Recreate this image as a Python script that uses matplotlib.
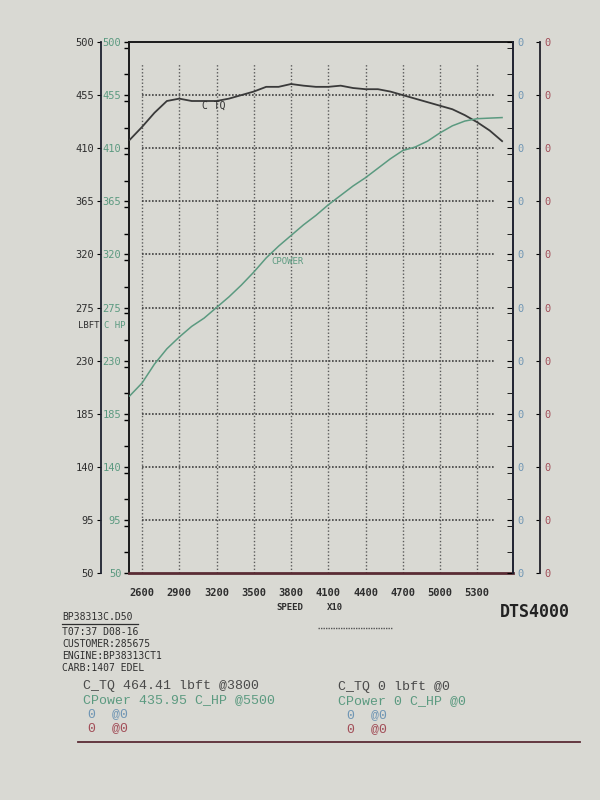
import matplotlib.pyplot as plt
import matplotlib.ticker as ticker
from matplotlib.lines import Line2D

# dyno run, engine speed in rpm
rpm = [2500, 2600, 2700, 2800, 2900, 3000, 3100, 3200, 3300, 3400, 3500,
       3600, 3700, 3800, 3900, 4000, 4100, 4200, 4300, 4400, 4500,
       4600, 4700, 4800, 4900, 5000, 5100, 5200, 5300, 5400, 5500]
torque = [417, 428, 440, 450, 452, 450, 450, 450, 452, 455, 458,
          462, 462, 464.4, 463, 462, 462, 463, 461, 460, 460,
          458, 455, 452, 449, 446, 443, 438, 432, 425, 416]
power = [200, 211, 227, 240, 250, 259, 266, 275, 284, 294, 305,
         317, 327, 336, 345, 353, 362, 370, 378, 385, 393,
         401, 408, 411, 416, 423, 429, 433, 435, 435.5, 435.95]

y_ticks = [50, 95, 140, 185, 230, 275, 320, 365, 410, 455, 500]
x_ticks = [2600, 2900, 3200, 3500, 3800, 4100, 4400, 4700, 5000, 5300]
blue_labels = ["0"] * len(y_ticks)
red_labels = ["0"] * len(y_ticks)

run_file = "BP38313C.D50"
info_lines = ["T07:37 D08-16", "CUSTOMER:285675", "ENGINE:BP38313CT1", "CARB:1407 EDEL"]

PAPER = "#d9d9d3"
INK = "#2e2e2e"
GREEN = "#5b9a80"
BLUE = "#7096b4"
RED = "#a24e58"
MAROON = "#5a2c34"

plt.rcParams["font.family"] = ["DejaVu Sans Mono"]

W, H = 600, 800


def fx(x):
    return x / W


def fy(y):
    return 1 - y / H


fig = plt.figure(figsize=(6, 8), dpi=100)
fig.patch.set_facecolor(PAPER)

bottom, height = fy(573), (573 - 42) / H
ax = fig.add_axes([fx(129), bottom, (513 - 129) / W, height])
ax.set_facecolor(PAPER)
ax.set_xlim(2495, 5588)
ax.set_ylim(50, 500)

# grid (dotted, printer style)
for v in x_ticks:
    ax.vlines(v, 50, 481, colors="#5a5a5a", linestyles=(0, (1, 1.5)), linewidth=1.0, zorder=1)
for h in y_ticks[1:-1]:
    ax.hlines(h, 2600, 5440, colors="#404040", linestyles=(0, (1, 1)), linewidth=1.2, zorder=1)

ax.plot(rpm, torque, color="#3a3a3a", linewidth=1.3, zorder=3)
ax.plot(rpm, power, color=GREEN, linewidth=1.1, zorder=3)
ax.text(3080, 446, "C TQ", fontsize=7, color=INK, va="center", zorder=4)
ax.text(3640, 314, "CPOWER", fontsize=6.5, color=GREEN, va="center", zorder=4)

ax.set_yticks(y_ticks)
ax.yaxis.set_minor_locator(ticker.MultipleLocator(22.5))
ax.tick_params(axis="y", which="both", direction="out", length=3.5, width=1,
               left=True, right=False, labelsize=7.5, labelcolor=GREEN, pad=2)
ax.set_xticks(x_ticks)
ax.tick_params(axis="x", length=0, pad=11, labelsize=7.5, labelcolor=INK)
for t in ax.get_xticklabels():
    t.set_fontweight("bold")

for s in ["left", "top"]:
    ax.spines[s].set_color("#1a1a1a")
    ax.spines[s].set_linewidth(1.4)
ax.spines["right"].set_visible(False)
ax.spines["bottom"].set_color(MAROON)
ax.spines["bottom"].set_linewidth(2)

# right hand axes (unused channels, all zero)
ax_b = ax.twinx()
ax_b.set_ylim(50, 500)
ax_b.set_yticks(y_ticks)
ax_b.set_yticklabels(blue_labels)
ax_b.yaxis.set_minor_locator(ticker.MultipleLocator(22.5))
ax_b.tick_params(axis="y", which="both", direction="in", length=4, labelsize=7.5,
                 labelcolor=BLUE, pad=3)
for s in ["left", "top", "bottom"]:
    ax_b.spines[s].set_visible(False)
ax_b.spines["right"].set_color("#1e2230")
ax_b.spines["right"].set_linewidth(1.4)

ax_r = ax.twinx()
ax_r.set_ylim(50, 500)
ax_r.spines["right"].set_position(("axes", 1.07))
ax_r.set_yticks(y_ticks)
ax_r.set_yticklabels(red_labels)
ax_r.tick_params(axis="y", direction="in", length=3, labelsize=7.5, labelcolor=RED, pad=3)
for s in ["left", "top", "bottom"]:
    ax_r.spines[s].set_visible(False)
ax_r.spines["right"].set_color("#22222a")
ax_r.spines["right"].set_linewidth(1.3)

# left lbft axis
ax_k = fig.add_axes([fx(101), bottom, 0.001, height])
ax_k.set_ylim(50, 500)
ax_k.set_yticks(y_ticks)
ax_k.set_xticks([])
ax_k.patch.set_visible(False)
ax_k.tick_params(axis="y", direction="out", length=3, labelsize=7.5, labelcolor=INK, pad=2)
for s in ["right", "top", "bottom"]:
    ax_k.spines[s].set_visible(False)
ax_k.spines["left"].set_color("#1e2230")
ax_k.spines["left"].set_linewidth(1.3)

fig.text(fx(78), fy(325), "LBFT", fontsize=6.5, color=INK, va="center")
fig.text(fx(104), fy(325), "C HP", fontsize=6.5, color=GREEN, va="center")

# footer
fig.text(fx(276), fy(608), "SPEED", fontsize=6.5, fontweight="bold", color=INK, va="center")
fig.text(fx(327), fy(608), "X10", fontsize=6.5, fontweight="bold", color=INK, va="center")
fig.add_artist(Line2D([fx(318), fx(393)], [fy(628), fy(628)], color="#555555",
                      linestyle=(0, (1, 0.8)), linewidth=1))
fig.text(fx(500), fy(612), "DTS4000", fontsize=12, fontweight="bold", color="#222222", va="center")

fig.text(fx(62), fy(617), run_file, fontsize=7, color=INK, va="center")
fig.add_artist(Line2D([fx(62), fx(138)], [fy(624), fy(624)], color=INK, linewidth=0.9))
for i, line in enumerate(info_lines):
    fig.text(fx(62), fy(632 + 12 * i), line, fontsize=7, color=INK, va="center")

mono = ["Liberation Mono", "DejaVu Sans Mono"]
fig.text(fx(83), fy(686), "C_TQ 464.41 lbft @3800", family=mono, fontsize=9.5, color="#4a4a4a", va="center")
fig.text(fx(83), fy(700), "CPower 435.95 C_HP @5500", family=mono, fontsize=9.5, color=GREEN, va="center")
fig.text(fx(88), fy(714), "0  @0", family=mono, fontsize=9.5, color=BLUE, va="center")
fig.text(fx(88), fy(728), "0  @0", family=mono, fontsize=9.5, color=RED, va="center")
fig.text(fx(338), fy(687), "C_TQ 0 lbft @0", family=mono, fontsize=9.5, color="#4a4a4a", va="center")
fig.text(fx(338), fy(701), "CPower 0 C_HP @0", family=mono, fontsize=9.5, color=GREEN, va="center")
fig.text(fx(347), fy(715), "0  @0", family=mono, fontsize=9.5, color=BLUE, va="center")
fig.text(fx(347), fy(729), "0  @0", family=mono, fontsize=9.5, color=RED, va="center")
fig.add_artist(Line2D([fx(78), fx(580)], [fy(742), fy(742)], color=MAROON, linewidth=1.3))

fig.savefig("out.png", facecolor=PAPER)
